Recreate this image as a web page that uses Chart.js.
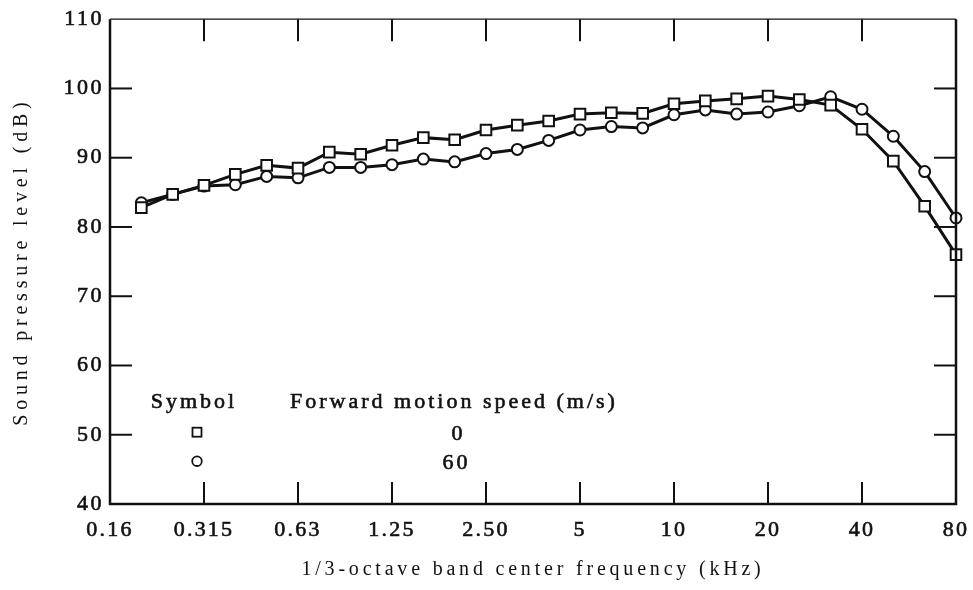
<!DOCTYPE html>
<html>
<head>
<meta charset="utf-8">
<script src="https://cdn.jsdelivr.net/npm/chart.js@4/dist/chart.umd.min.js"></script>
<style>
html,body{margin:0;padding:0;background:#fff;}
#wrap{width:973px;height:590px;position:relative;}
</style>
</head>
<body>
<div id="wrap"><canvas id="c" width="973" height="590"></canvas></div>
<script>
// 1/3-octave band centre frequencies (kHz); first entry is the axis origin
const bands = ['0.16','0.2','0.25','0.315','0.4','0.5','0.63','0.8','1','1.25','1.6','2','2.50','3.15','4','5','6.3','8','10','12.5','16','20','25','31.5','40','50','63','80'];
// Sound pressure level (dB), forward motion speed 0 m/s (squares)
const spl0 = [null,82.8,84.7,86.0,87.6,88.9,88.5,90.8,90.5,91.8,92.9,92.6,94.0,94.7,95.3,96.3,96.5,96.4,97.8,98.2,98.5,98.9,98.4,97.6,94.1,89.5,83.0,76.0];
// Sound pressure level (dB), forward motion speed 60 m/s (circles)
const spl60 = [null,83.5,84.7,85.9,86.1,87.3,87.1,88.6,88.6,89.0,89.8,89.4,90.6,91.2,92.5,94.0,94.5,94.3,96.2,96.9,96.3,96.6,97.5,98.8,97.0,93.1,88.0,81.3];
// Tick labels
const xTickLabels = ['0.16','0.315','0.63','1.25','2.50','5','10','20','40','80'];
const yTicks = [40,50,60,70,80,90,100,110];
const legendTitle = ['Symbol','Forward motion speed (m/s)'];
const legendSpeeds = ['0','60'];

const SERIF = '"Liberation Serif", "DejaVu Serif", serif';
const INK = '#111';

// letter spacing of the printed typeface, per scale element
const SPACING = { x: { title: '3.8px', labels: '2.2px' }, y: { title: '4.8px', labels: '2.5px' } };
const SP = (Chart.Scale || Object.getPrototypeOf(Chart.registry.getScale('linear'))).prototype;
const origTitle = SP.drawTitle, origLabels = SP.drawLabels;
SP.drawTitle = function (...args) {
  const c = this.ctx; c.save();
  c.letterSpacing = (SPACING[this.id] || {}).title || '0px';
  origTitle.apply(this, args); c.restore();
};
SP.drawLabels = function (...args) {
  const c = this.ctx; c.save();
  c.letterSpacing = (SPACING[this.id] || {}).labels || '0px';
  origLabels.apply(this, args); c.restore();
};

const framePlugin = {
  id: 'frame',
  afterDatasetsDraw(chart) {
    const ctx = chart.ctx;
    const a = chart.chartArea;
    const xs = chart.scales.x, ys = chart.scales.y;
    ctx.save();
    ctx.strokeStyle = INK;
    ctx.lineCap = 'butt';
    // frame
    ctx.lineWidth = 1.2;
    ctx.beginPath(); ctx.moveTo(a.left, a.top); ctx.lineTo(a.right, a.top); ctx.stroke();
    ctx.lineWidth = 2.5;
    ctx.beginPath();
    ctx.moveTo(a.left, a.top); ctx.lineTo(a.left, a.bottom); ctx.lineTo(a.right, a.bottom); ctx.lineTo(a.right, a.top);
    ctx.stroke();
    // inner ticks on y (left & right)
    const tl = 22;
    ctx.lineWidth = 2;
    yTicks.slice(1, -1).forEach(v => {
      const y = ys.getPixelForValue(v);
      ctx.beginPath(); ctx.moveTo(a.left, y); ctx.lineTo(a.left + tl, y); ctx.stroke();
      ctx.beginPath(); ctx.moveTo(a.right, y); ctx.lineTo(a.right - tl, y); ctx.stroke();
    });
    // inner ticks on x (top & bottom)
    xTickLabels.slice(1, -1).forEach(l => {
      const x = xs.getPixelForValue(bands.indexOf(l));
      ctx.beginPath(); ctx.moveTo(x, a.bottom); ctx.lineTo(x, a.bottom - tl); ctx.stroke();
      ctx.beginPath(); ctx.moveTo(x, a.top); ctx.lineTo(x, a.top + tl); ctx.stroke();
    });
    // legend box
    const sp = 3;
    ctx.letterSpacing = sp + 'px';
    ctx.fillStyle = INK;
    ctx.font = '22px ' + SERIF;
    ctx.textBaseline = 'alphabetic';
    ctx.lineWidth = 0.6;
    const txt = (s, x, y) => { ctx.fillText(s, x, y); ctx.strokeText(s, x, y); };
    const mx = a.left + 87;
    const base = a.top + 389;
    ctx.textAlign = 'center';
    txt(legendTitle[0], a.left + 82.5 + sp / 2, base);
    ctx.textAlign = 'left';
    txt(legendTitle[1], a.left + 180, base);
    ctx.textAlign = 'center';
    txt(legendSpeeds[0], a.left + 347 + sp / 2, base + 31.5);
    txt(legendSpeeds[1], a.left + 345 + sp / 2, base + 60.5);
    ctx.lineWidth = 1.8;
    ctx.strokeRect(mx - 4.5, base + 24 - 4.5, 9, 9);
    ctx.beginPath(); ctx.arc(mx, base + 53, 4.8, 0, Math.PI * 2); ctx.stroke();
    ctx.restore();
  }
};

new Chart(document.getElementById('c'), {
  type: 'line',
  data: {
    labels: bands,
    datasets: [
      {
        label: '0 m/s', data: spl0,
        borderColor: INK, borderWidth: 3,
        pointStyle: 'rect', pointRadius: 7.5, pointBorderWidth: 2,
        pointBackgroundColor: '#fff', pointBorderColor: INK,
        tension: 0, spanGaps: false
      },
      {
        label: '60 m/s', data: spl60,
        borderColor: INK, borderWidth: 3,
        pointStyle: 'circle', pointRadius: 5.5, pointBorderWidth: 2,
        pointBackgroundColor: '#fff', pointBorderColor: INK,
        tension: 0, spanGaps: false
      }
    ]
  },
  options: {
    responsive: false,
    animation: false,
    events: [],
    layout: { padding: { top: 19, right: 17, left: 0, bottom: 0 } },
    plugins: { legend: { display: false }, tooltip: { enabled: false } },
    scales: {
      x: {
        type: 'category',
        offset: false,
        grid: { display: false, drawTicks: false },
        border: { display: false },
        ticks: {
          autoSkip: false, maxRotation: 0, padding: 13,
          color: INK, font: { family: SERIF, size: 22 },
          textStrokeColor: INK, textStrokeWidth: 0.6,
          callback: function(v, i) { const l = bands[i]; return xTickLabels.includes(l) ? l : ''; }
        },
        title: {
          display: true, text: '1/3-octave band center frequency (kHz)',
          color: INK, font: { family: SERIF, size: 20 },
          padding: { top: 4, bottom: 8 }
        },
        afterFit(s) { s.height = 86; s.paddingLeft = 0; s.paddingRight = 0; }
      },
      y: {
        min: 40, max: 110,
        afterBuildTicks(s) { s.ticks = yTicks.map(v => ({ value: v })); },
        grid: { display: false, drawTicks: false },
        border: { display: false },
        ticks: {
          padding: 6, color: INK, font: { family: SERIF, size: 22 },
          textStrokeColor: INK, textStrokeWidth: 0.6
        },
        title: {
          display: true, text: 'Sound pressure level (dB)',
          color: INK, font: { family: SERIF, size: 20 },
          padding: { top: 10, bottom: 4 }
        },
        afterFit(s) { s.width = 110; }
      }
    }
  },
  plugins: [framePlugin]
});
</script>
</body>
</html>
